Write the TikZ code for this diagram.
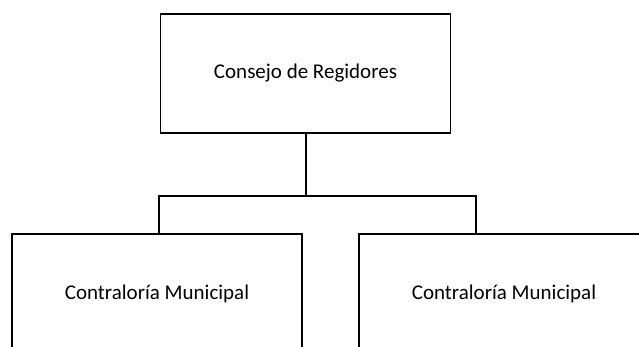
\documentclass[tikz,border=0pt]{standalone}
\usepackage{fontspec}
\setmainfont{Carlito}
\usetikzlibrary{positioning}

\begin{document}
\begin{tikzpicture}[x=1pt, y=-1pt,
    unitbox/.style={draw, line width=1.2pt, minimum width=290pt, minimum height=120pt,
        inner sep=0pt, font=\fontsize{21}{25}\selectfont},
    link/.style={line width=1.2pt}]

    % Fix the page to the size of the reference
    \useasboundingbox (0,0) rectangle (639,347);

    % Top box
    \node[unitbox, minimum height=119pt] (consejo) at (305.5,73.5) {Consejo de Regidores};

    % The two boxes below (cut off by the lower edge)
    \node[unitbox] (contraLeft) at (157,294) {Contraloría Municipal};
    \node[unitbox] (contraRight) at (504,294) {Contraloría Municipal};

    % Junction of the connectors
    \coordinate (split) at (306,196);
    \coordinate (dropLeft) at (159,234);
    \coordinate (dropRight) at (476,234);
    \coordinate (kink) at (387,196);

    % Connectors
    \draw[link] (consejo.south -| split) -- (split);
    \draw[link] (split) -| (dropLeft);
    \draw[link] (split) -| (dropRight);
    \draw[line width=2pt] (kink) -- (dropRight |- kink);

\end{tikzpicture}
\end{document}
